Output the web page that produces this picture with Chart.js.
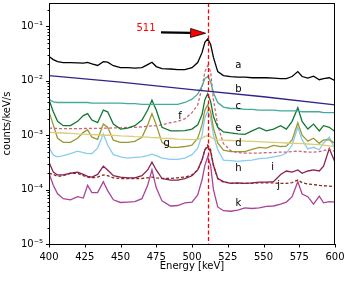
<!DOCTYPE html>
<html>
<head>
<meta charset="utf-8">
<script src="https://cdn.jsdelivr.net/npm/chart.js@4.4.1/dist/chart.umd.min.js"></script>
<style>
html, body { margin: 0; padding: 0; background: #fff; }
</style>
</head>
<body>
<canvas id="spectra" width="345" height="281"></canvas>
<script>
// energy grid [keV] shared by the measured spectra
var energy = [400, 403, 406, 410, 415, 420, 424, 427, 430, 434,
              438, 441, 445, 450, 455, 460, 465, 469, 472, 475,
              479, 485, 490, 495, 500, 504, 507, 509, 511, 513,
              515, 518, 522, 527, 532, 537, 542, 547, 552, 557,
              562, 566, 570, 574, 577, 581, 585, 589, 592, 596, 600];

// counts/keV/s
var specA = [0.028, 0.0246, 0.0226, 0.0217, 0.0217, 0.0214, 0.0212, 0.0218, 0.0205, 0.0192,
             0.0226, 0.022, 0.019, 0.0175, 0.0175, 0.0172, 0.0175, 0.0199, 0.022, 0.0183,
             0.0168, 0.0165, 0.0161, 0.0161, 0.0175, 0.0217, 0.033, 0.051, 0.059, 0.047,
             0.027, 0.0148, 0.0125, 0.012, 0.0117, 0.0117, 0.0114, 0.0114, 0.0114, 0.0112,
             0.011, 0.011, 0.012, 0.0148, 0.012, 0.0112, 0.0122, 0.0105, 0.011, 0.0114, 0.0101];
var specC = [0.0046, 0.0041, 0.004, 0.004, 0.004, 0.004, 0.004, 0.004, 0.0039, 0.0039,
             0.0039, 0.0039, 0.0039, 0.0039, 0.0038, 0.0038, 0.0037, 0.0037, 0.0037, 0.0037,
             0.0037, 0.0037, 0.0037, 0.004, 0.0046, 0.0057, 0.008, 0.011, 0.012, 0.0097,
             0.006, 0.004, 0.0033, 0.0031, 0.0031, 0.003, 0.003, 0.0029, 0.0029, 0.0029,
             0.0028, 0.0028, 0.0028, 0.0028, 0.0027, 0.0027, 0.0027, 0.0027, 0.0026, 0.0026, 0.0026];
var specD = [0.00113, 0.00112, 0.00111, 0.0011, 0.00108, 0.00106, 0.00105, 0.00104, 0.00103, 0.00102,
             0.001, 0.001, 0.00099, 0.00097, 0.00096, 0.00094, 0.00093, 0.00092, 0.0009, 0.0009,
             0.00088, 0.00087, 0.00085, 0.00084, 0.00083, 0.00084, 0.00088, 0.00095, 0.00098, 0.00093,
             0.00086, 0.00082, 0.00081, 0.0008, 0.00079, 0.00078, 0.00077, 0.00076, 0.00075, 0.00074,
             0.00073, 0.00072, 0.00071, 0.00071, 0.0007, 0.00069, 0.00068, 0.00067, 0.00066, 0.00064, 0.00062];
var specE = [0.0045, 0.0027, 0.0018, 0.0015, 0.0015, 0.0018, 0.0023, 0.0025, 0.0019, 0.0017,
             0.0029, 0.0027, 0.0016, 0.0013, 0.00135, 0.0015, 0.0019, 0.0029, 0.0044, 0.0029,
             0.0014, 0.0012, 0.0012, 0.00122, 0.0013, 0.00155, 0.0024, 0.0045, 0.0058, 0.0042,
             0.0022, 0.0014, 0.00115, 0.0011, 0.00106, 0.00104, 0.0012, 0.00138, 0.0012, 0.0013,
             0.0015, 0.0013, 0.0018, 0.0032, 0.0018, 0.0013, 0.0016, 0.0012, 0.0015, 0.0014, 0.00117];
var specF = [0.00135, 0.00134, 0.00133, 0.00132, 0.00132, 0.00132, 0.00133, 0.00133, 0.00134, 0.00134,
             0.00135, 0.00135, 0.00136, 0.00137, 0.00139, 0.0014, 0.00143, 0.00146, 0.00148, 0.0015,
             0.00155, 0.0017, 0.0018, 0.002, 0.0026, 0.0036, 0.0075, 0.0148, 0.019, 0.0148,
             0.0045, 0.0015, 0.0007, 0.00052, 0.00048, 0.00047, 0.00047, 0.00047, 0.00048, 0.00048,
             0.00049, 0.00049, 0.0005, 0.00051, 0.0005, 0.00049, 0.00049, 0.0005, 0.00052, 0.00056, 0.0005];
var specG = [0.0027, 0.00155, 0.00088, 0.00074, 0.00074, 0.00088, 0.00113, 0.00125, 0.00092, 0.00084,
             0.0016, 0.0014, 0.00081, 0.00074, 0.00074, 0.00077, 0.00092, 0.00155, 0.0025, 0.00155,
             0.00074, 0.0006, 0.0006, 0.00062, 0.00066, 0.00088, 0.00155, 0.0029, 0.0036, 0.0027,
             0.00135, 0.00072, 0.00053, 0.0005, 0.0005, 0.0005, 0.00055, 0.0006, 0.00058, 0.00065,
             0.00062, 0.00063, 0.00082, 0.0017, 0.001, 0.00078, 0.00088, 0.00071, 0.00082, 0.00082, 0.00071];
var specH = [0.0006, 0.00043, 0.0004, 0.00042, 0.00046, 0.00051, 0.00048, 0.00046, 0.00046, 0.00058,
             0.00105, 0.00066, 0.00044, 0.0004, 0.00038, 0.00039, 0.0004, 0.00042, 0.00045, 0.00042,
             0.00038, 0.00036, 0.00036, 0.00038, 0.00044, 0.00058, 0.001, 0.0021, 0.0028, 0.0021,
             0.001, 0.00054, 0.00035, 0.00034, 0.00033, 0.00034, 0.00035, 0.00037, 0.00038, 0.0004,
             0.00042, 0.00047, 0.00066, 0.0014, 0.00082, 0.00056, 0.0006, 0.00054, 0.00072, 0.00092, 0.00056];
var specI = [0.00032, 0.00021, 0.000186, 0.000186, 0.0002, 0.00021, 0.00019, 0.000175, 0.00017, 0.00019,
             0.00027, 0.00023, 0.00018, 0.00017, 0.000165, 0.000165, 0.00018, 0.00023, 0.00032, 0.00023,
             0.00016, 0.00015, 0.00015, 0.00016, 0.00018, 0.00023, 0.00035, 0.00054, 0.00061, 0.0005,
             0.00028, 0.00016, 0.00014, 0.00013, 0.000133, 0.00013, 0.000133, 0.000137, 0.000137, 0.00014,
             0.00019, 0.00022, 0.00021, 0.00023, 0.0002, 0.00022, 0.00023, 0.00022, 0.00027, 0.00057, 0.00032];
var specJ = [0.0002, 0.00019, 0.000175, 0.00018, 0.0002, 0.0002, 0.00018, 0.00017, 0.000165, 0.00017,
             0.000186, 0.00018, 0.000165, 0.00016, 0.00016, 0.00016, 0.00016, 0.000165, 0.00017, 0.000165,
             0.00016, 0.00016, 0.000165, 0.00017, 0.000186, 0.00023, 0.00035, 0.00054, 0.00066, 0.00054,
             0.00028, 0.00016, 0.000137, 0.000133, 0.00013, 0.00013, 0.00013, 0.000133, 0.000133, 0.000133,
             0.00013, 0.00013, 0.000135, 0.00015, 0.000135, 0.000127, 0.000124, 0.00012, 0.000118, 0.000116, 0.000114];
var specK = [0.0002, 0.00012, 0.000084, 0.000068, 0.000065, 0.000074, 0.00007, 0.00012, 0.000088, 0.000088,
             0.00014, 0.000096, 0.000065, 0.000058, 0.000059, 0.00006, 0.000068, 0.00012, 0.00023, 0.000108,
             0.000062, 0.00005, 0.000051, 0.000057, 0.000059, 0.00008, 0.00015, 0.00028, 0.0004, 0.00028,
             0.0001, 0.000048, 0.000041, 0.00004, 0.000042, 0.000046, 0.000045, 0.000046, 0.000049, 0.00005,
             0.000054, 0.000059, 0.000074, 0.00014, 0.000083, 0.000074, 0.000054, 0.000076, 0.000057, 0.00006, 0.000059];

// the smooth background model (b) only needs a few points
var energyB = [400, 450, 500, 550, 600];
var specB = [0.0125, 0.0095, 0.0069, 0.0051, 0.0036];

var peakEnergy = 511;
var yDecades = [1e-5, 1e-4, 1e-3, 1e-2, 1e-1];
var yTickLabels = ['10\u207B\u2075', '10\u207B\u2074', '10\u207B\u00B3', '10\u207B\u00B2', '10\u207B\u00B9'];

function pts(xs, ys) {
    return xs.map(function (x, i) { return { x: x, y: ys[i] }; });
}

function line(data, color, dash) {
    return {
        data: data,
        borderColor: color,
        borderWidth: 1.3,
        borderDash: dash || [],
        pointRadius: 0,
        fill: false,
        tension: 0
    };
}

// text labels next to the curves, placed in data coordinates
var curveLabels = [
    ['a', 532.4, 0.019], ['b', 532.4, 0.0071], ['c', 532.4, 0.0034],
    ['e', 532.4, 0.00134], ['d', 532.4, 0.00072], ['f', 491.6, 0.0022],
    ['g', 482.3, 0.00072], ['h', 532.4, 0.000244], ['i', 556.4, 0.000254],
    ['j', 560.5, 0.00012], ['k', 532.4, 0.0000567]
];

var extras = {
    id: 'extras',
    afterDatasetsDraw: function (chart) {
        var c = chart.ctx, area = chart.chartArea;
        var xs = chart.scales.x, ys = chart.scales.y;

        // 511 keV marker
        var px = Math.round(xs.getPixelForValue(peakEnergy)) + 0.5;
        c.save();
        c.strokeStyle = '#ff0000';
        c.lineWidth = 1.3;
        c.setLineDash([4, 2.5]);
        c.beginPath();
        c.moveTo(px, area.top);
        c.lineTo(px, area.bottom);
        c.stroke();
        c.restore();

        // frame
        c.save();
        c.strokeStyle = '#000';
        c.lineWidth = 1;
        c.strokeRect(area.left + 0.5, area.top + 0.5, area.right - area.left - 1, area.bottom - area.top);

        // tick marks
        c.beginPath();
        xs.ticks.forEach(function (t) {
            var x = Math.round(xs.getPixelForValue(t.value)) + 0.5;
            c.moveTo(x, area.bottom);
            c.lineTo(x, area.bottom + 3.5);
        });
        ys.ticks.forEach(function (t) {
            var y = Math.round(ys.getPixelForValue(t.value)) + 0.5;
            var len = t.label ? 3.5 : 2;
            c.moveTo(area.left + 0.5, y);
            c.lineTo(area.left + 0.5 - len, y);
        });
        c.stroke();

        // curve letters
        c.fillStyle = '#000';
        c.font = '10px "DejaVu Sans"';
        c.textAlign = 'center';
        c.textBaseline = 'middle';
        curveLabels.forEach(function (l) {
            c.fillText(l[0], xs.getPixelForValue(l[1]), ys.getPixelForValue(l[2]));
        });

        // arrow pointing at the annihilation peak
        var x0 = xs.getPixelForValue(478.3), y0 = ys.getPixelForValue(0.078);
        var x1 = xs.getPixelForValue(509.5), y1 = ys.getPixelForValue(0.075);
        var ang = Math.atan2(y1 - y0, x1 - x0);
        var headLen = 15, headW = 4.5;
        var bx = x1 - headLen * Math.cos(ang), by = y1 - headLen * Math.sin(ang);
        c.strokeStyle = '#000';
        c.lineWidth = 2.2;
        c.beginPath();
        c.moveTo(x0, y0);
        c.lineTo(bx, by);
        c.stroke();
        c.fillStyle = '#ff0000';
        c.lineWidth = 0.8;
        c.beginPath();
        c.moveTo(x1, y1);
        c.lineTo(bx + headW * Math.sin(ang), by - headW * Math.cos(ang));
        c.lineTo(bx - headW * Math.sin(ang), by + headW * Math.cos(ang));
        c.closePath();
        c.fill();
        c.stroke();

        c.fillStyle = '#ff0000';
        c.font = '10px "DejaVu Sans"';
        c.fillText(String(peakEnergy), xs.getPixelForValue(467.8), ys.getPixelForValue(0.092));
        c.restore();
    }
};

var ctx = document.getElementById('spectra').getContext('2d');

var chart = new Chart(ctx,
{
    type: 'line',
    data:
    {
        datasets: [
            line(pts(energy, specA), '#000000'),
            line(pts(energyB, specB), '#332288'),
            line(pts(energy, specC), '#44AA99'),
            line(pts(energy, specD), '#DDCC77'),
            line(pts(energy, specE), '#117733'),
            line(pts(energy, specF), '#CC6677', [3, 2]),
            line(pts(energy, specG), '#999933'),
            line(pts(energy, specH), '#88CCEE'),
            line(pts(energy, specI), '#882255'),
            line(pts(energy, specJ), '#8B2A14', [3, 2]),
            line(pts(energy, specK), '#AA4499')
        ]
    },
    options:
    {
        responsive: false,
        animation: false,
        devicePixelRatio: 1,
        layout: { padding: { left: 0, right: 10, top: 3, bottom: 0 } },
        plugins: { legend: { display: false }, tooltip: { enabled: false } },
        scales:
        {
            x:
            {
                type: 'linear',
                min: 400,
                max: 600,
                grid: { display: false, drawTicks: false },
                border: { display: false },
                ticks:
                {
                    stepSize: 25,
                    padding: 7,
                    color: '#000',
                    maxRotation: 0,
                    font: { family: 'DejaVu Sans', size: 10 }
                },
                title:
                {
                    display: true,
                    text: 'Energy [keV]',
                    color: '#000',
                    font: { family: 'DejaVu Sans', size: 10 },
                    padding: { top: 0, bottom: 9 }
                },
                afterFit: function (s) {
                    s.height = 37;
                    s.paddingLeft = 0;
                    s.paddingRight = 0;
                }
            },
            y:
            {
                type: 'logarithmic',
                min: 1e-5,
                max: 0.27,
                grid: { display: false, drawTicks: false },
                border: { display: false },
                ticks:
                {
                    autoSkip: false,
                    padding: 6,
                    color: '#000',
                    font: { family: 'DejaVu Sans', size: 10 },
                    callback: function (v) {
                        var i = yDecades.findIndex(function (d) { return Math.abs(v - d) / d < 1e-6; });
                        return i >= 0 ? yTickLabels[i] : '';
                    }
                },
                afterBuildTicks: function (s) {
                    var t = [];
                    yDecades.forEach(function (d) {
                        for (var m = 1; m <= 9; m++) {
                            if (m * d <= s.max) t.push({ value: m * d });
                        }
                    });
                    s.ticks = t;
                },
                title:
                {
                    display: true,
                    text: 'counts/keV/s',
                    color: '#000',
                    font: { family: 'DejaVu Sans', size: 10 },
                    padding: { top: 1, bottom: 0 }
                },
                afterFit: function (s) {
                    s.width = 49;
                    s.paddingTop = 0;
                    s.paddingBottom = 0;
                }
            }
        }
    },
    plugins: [extras]
});
</script>
</body>
</html>
